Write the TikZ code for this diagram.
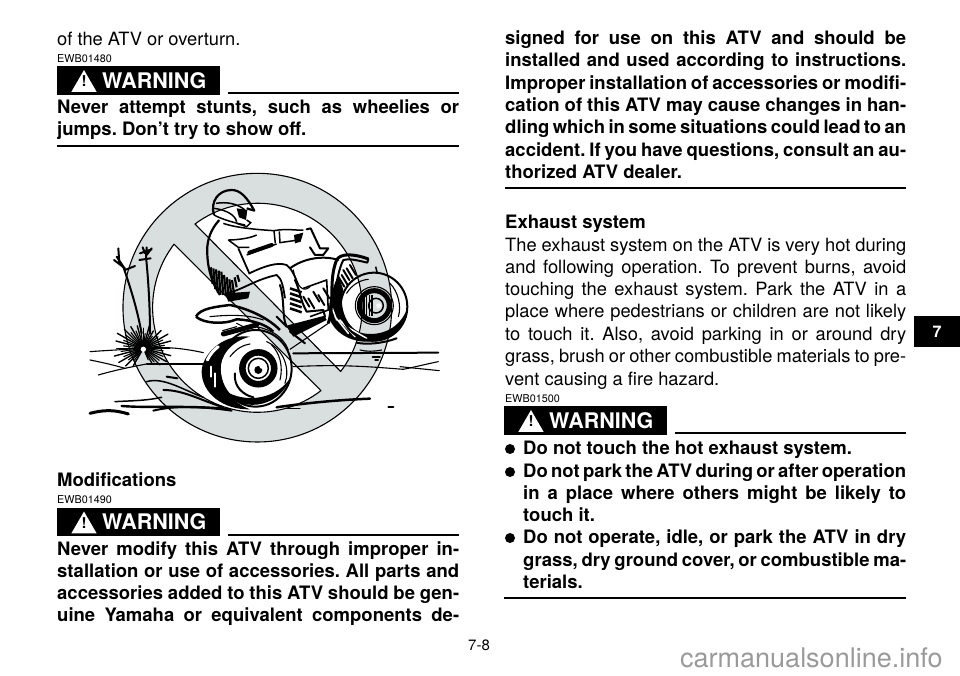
\documentclass[tikz,border=0pt]{standalone}
\usepackage{fontspec}
\setmainfont{TeX Gyre Heros}
\usepackage{xcolor}
\usetikzlibrary{shapes.geometric, positioning, calc}
\definecolor{ringgray}{HTML}{D9DEDE}
\definecolor{markgray}{HTML}{9A9A9A}
\newcommand{\fitline}[2]{\hbox to #1pt{\spaceskip=.278em plus 1fil minus .14em #2}}
\begin{document}
\frenchspacing
\begin{tikzpicture}[
    x=1pt, y=-1pt,
    plain/.style={anchor=base west, inner sep=0pt, font=\fontsize{18.3}{22}\selectfont},
    bold/.style={anchor=base west, inner sep=0pt, font=\fontsize{18.5}{22}\selectfont\bfseries},
    codetag/.style={anchor=base west, inner sep=0pt, font=\fontsize{10.8}{12}\selectfont},
    warnbar/.style={anchor=north west, fill=black, minimum width=163pt, minimum height=28.5pt, inner sep=0pt},
    warntext/.style={right=45pt of #1.west, anchor=west, inner sep=0pt, text=white, font=\fontsize{21.5}{24}\selectfont\bfseries},
    warnicon/.style={regular polygon, regular polygon sides=3, fill=white, inner sep=0pt, minimum size=29pt},
    warnmark/.style={inner sep=0pt, font=\fontsize{15}{16}\selectfont\bfseries},
    rulebar/.style={draw, line width=2pt},
    dot/.style={circle, fill=black, minimum size=10pt, inner sep=0pt},
    ink/.style={line width=1.1pt, line cap=round, line join=round},
    heavy ink/.style={line width=2pt, line cap=round, line join=round}
]
\useasboundingbox (0,0) rectangle (960,675);

% Left column, top
\node[plain] (overturn) at (57,45) {of the ATV or overturn.};
\node[codetag] (tagA) at (57,62) {EWB01480};
\node[warnbar] (warnA) at (57,66) {};
\node[warntext=warnA] (warnAtext) {WARNING};
\node[warnicon] (iconA) at (84,84.5) {};
\node[warnmark] at (84,81.5) {!};
\coordinate (ruleAend) at (459,93);
\draw[rulebar] ($(warnA.east |- ruleAend)+(8,0)$) -- (ruleAend);
\node[bold] (stuntsA) at (57,113) {\fitline{402}{Never attempt stunts, such as wheelies or}};
\node[bold] (stuntsB) at (57,135) {jumps. Don’t try to show off.};
\coordinate (ruleBstart) at (57,146);
\coordinate (ruleBend) at (459,146);
\draw[rulebar] (ruleBstart) -- (ruleBend);

% Prohibition sign
\begin{scope}[shift={(90,160)}, x=0.3333pt, y=-0.3333pt]
\fill[ringgray] (502,443) circle (403);
\fill[white] (315,192) arc[start angle=233.3, end angle=397.4, radius=314] -- cycle;
\fill[white] (693,692) arc[start angle=52.5, end angle=217.3, radius=314] -- cycle;
\draw[ink] (502,443) circle (403);
\draw[ink] (315,192) arc[start angle=233.3, end angle=397.4, radius=314] -- cycle;
\draw[ink] (693,692) arc[start angle=52.5, end angle=217.3, radius=314] -- cycle;

% Ground
\draw[ink] (0,575) .. controls (40,572) and (80,570) .. (110,568) .. controls (180,562) and (240,556) .. (340,578);
\draw[heavy ink] (610,580) -- (1045,578);
\draw[ink] (610,620) .. controls (760,612) and (860,622) .. (940,628) .. controls (980,620) and (1010,612) .. (1045,605);
\draw[ink] (930,620) -- (1048,632);
\draw[ink] (0,600) .. controls (40,608) and (70,615) .. (105,625);
\draw[ink] (25,645) .. controls (60,635) and (100,625) .. (170,612);
\draw[ink] (170,612) -- (345,612);
\draw[line width=3pt, line cap=round] (0,760) .. controls (40,750) and (70,748) .. (115,762);
\draw[line width=2.4pt, line cap=round] (95,738) .. controls (180,745) and (300,735) .. (420,748);
\draw[line width=1.5pt, line cap=round] (75,725) .. controls (130,722) and (170,722) .. (215,712);
\draw[heavy ink] (190,752) .. controls (260,735) and (340,740) .. (425,752);
\draw[line width=2.5pt, line cap=round] (560,742) .. controls (640,730) and (740,720) .. (840,716);
\draw[ink] (590,745) -- (630,745);
\draw[line width=1.5pt, line cap=round] (170,665) .. controls (220,650) and (280,690) .. (340,712);
\draw[heavy ink] (220,690) .. controls (280,690) and (330,720) .. (400,742);
\draw[heavy ink] (230,650) -- (262,655);
\draw[heavy ink] (895,741) -- (910,741);
\draw[ink] (810,570) .. controls (830,575) and (850,575) .. (875,570);
\draw[heavy ink] (848,590) -- (870,590);
\draw[ink] (855,600) -- (865,600);

% Plant
\foreach \ang/\len in {150/85,165/90,180/80,195/85,210/90,225/80,240/75,255/70,270/60,285/70,300/60,315/75,330/85,345/85,0/80,15/85,30/80,45/70,60/50,120/60,135/75}{
  \draw[line width=1.4pt, line cap=round] (160,565) -- ++(\ang:\len);
  \draw[ink] (160,565) -- ++(\ang+7:\len*0.75);
}
\fill[white] (160,568) circle (8);
\draw[heavy ink] (155,520) .. controls (140,440) and (120,380) .. (100,320);
\draw[heavy ink] (180,520) .. controls (180,440) and (175,360) .. (168,290);
\draw[heavy ink] (100,320) -- (80,290) (85,265) -- (88,310) (72,300) -- (105,325) (135,318) -- (105,330);
\draw[heavy ink] (168,290) -- (170,262) (150,280) -- (185,268) (148,300) -- (182,295) (158,262) -- (165,280) (185,265) -- (170,285);

% Rear wheel
\fill (480,530) .. controls (390,520) and (335,590) .. (335,635) .. controls (335,700) and (400,750) .. (480,748) .. controls (430,730) and (395,690) .. (392,630) .. controls (390,590) and (420,545) .. (480,530) -- cycle;
\fill (400,690) .. controls (440,755) and (565,755) .. (603,650) .. controls (565,715) and (470,735) .. (400,690) -- cycle;
\draw[white, line width=3pt, line cap=round] (352,600) .. controls (362,580) and (372,570) .. (385,560);
\draw[white, line width=2pt, line cap=round] (375,640) -- (375,680) (362,620) -- (362,650);
\draw[heavy ink] (497,625) ellipse (108 and 115);
\draw[ink] (420,590) .. controls (440,565) and (460,555) .. (480,552);
\draw[ink] (545,555) .. controls (570,580) and (580,620) .. (570,660);
\draw[ink] (530,545) .. controls (585,570) and (600,630) .. (585,670);
\draw[line width=6pt] (505,625) circle (47);
\draw[ink] (505,625) circle (56);
\draw[line width=1.5pt] (505,625) circle (30);
\fill (505,630) circle (12);
\fill[white] (515,620) circle (6);
\draw[heavy ink] (435,640) .. controls (430,680) and (460,705) .. (490,712);

% Front wheel
\fill (745,345) .. controls (725,390) and (710,440) .. (720,480) .. controls (740,525) and (790,548) .. (840,545) .. controls (900,545) and (940,510) .. (950,450) .. controls (930,500) and (880,530) .. (820,520) .. controls (770,510) and (745,440) .. (760,390) -- cycle;
\draw[white, line width=1.5pt, line cap=round] (735,470) -- (775,520) (750,480) -- (795,530) (725,440) -- (740,480) (770,500) -- (830,535);
\draw[heavy ink] (852,440) ellipse (100 and 102);
\draw[ink] (770,400) .. controls (785,375) and (810,360) .. (835,358);
\draw[ink] (900,370) .. controls (925,395) and (935,440) .. (925,470);
\draw[line width=5pt] (853,437) circle (45);
\draw[ink] (853,437) circle (57);
\draw[line width=1.5pt] (858,437) circle (22);
\foreach \xx in {822,830,838,846}{\draw[line width=1.6pt] (\xx,405) -- (\xx,468);}
\fill[white] (866,437) circle (7);
\draw[heavy ink] (800,548) .. controls (830,555) and (880,550) .. (920,535);

% Body of the machine
\draw[line width=2.5pt, line join=round] (318,470) .. controls (330,445) and (380,440) .. (420,435) .. controls (470,445) and (530,470) .. (570,510);
\draw[line width=2.5pt, line join=round] (318,470) .. controls (340,490) and (400,495) .. (440,478) .. controls (490,480) and (530,495) .. (550,515);
\draw[ink] (360,470) .. controls (410,465) and (470,462) .. (520,480);
\draw[line width=5pt, line cap=round] (400,522) -- (500,495);
\draw[ink] (398,512) -- (440,500) (440,490) -- (470,505);
\draw[ink] (500,500) .. controls (545,510) and (580,530) .. (595,570);
\draw[ink] (600,568) -- (715,490);
\draw[heavy ink] (600,325) .. controls (640,295) and (700,285) .. (745,300);
\draw[ink] (610,330) .. controls (620,380) and (640,400) .. (660,380);
\draw[line width=3pt] (715,490) .. controls (735,430) and (715,360) .. (740,300) .. controls (750,280) and (790,280) .. (835,297);
\draw[heavy ink] (835,297) -- (832,308) .. controls (800,300) and (775,295) .. (760,300) .. controls (745,330) and (740,370) .. (735,400);
\draw[line width=1.5pt] (857,320) -- (862,340);
\foreach \xx/\yy in {640/410,655/415,670/395,685/405,700/385,760/330,770/325,780/315,745/350,755/345}{
  \draw[heavy ink] (\xx,\yy) -- ++(18,30);
}
\draw[line width=1.6pt] (640,385) -- (710,360) -- (715,450) -- (660,470);

% Rider
\draw[line width=2.2pt, line join=round] (372,165) .. controls (360,125) and (385,90) .. (425,90) .. controls (450,90) and (470,110) .. (493,152) -- (470,145);
\draw[line width=1.5pt] (372,165) .. controls (400,180) and (440,190) .. (465,195) (378,130) .. controls (410,125) and (440,130) .. (465,150) (372,145) .. controls (410,150) and (435,165) .. (440,185);
\fill (440,145) -- (472,150) -- (468,180) -- (447,172) -- cycle;
\draw[line width=1.5pt] (470,180) -- (482,188) -- (470,200) -- (440,190);
\draw[line width=2.2pt] (388,180) .. controls (370,200) and (355,225) .. (352,260) .. controls (350,310) and (360,360) .. (390,405);
\draw[line width=1.5pt] (400,190) .. controls (440,205) and (520,210) .. (552,212) .. controls (590,205) and (620,212) .. (640,210);
\draw[line width=1.5pt] (415,240) .. controls (440,240) and (480,235) .. (500,225) (415,240) -- (445,262) -- (478,262) (470,285) .. controls (510,270) and (550,255) .. (560,252);
\draw[line width=1.5pt] (552,212) -- (556,250) (568,214) -- (570,248) -- (625,240);
\draw[line width=4pt, line cap=round] (478,278) -- (545,255);
\fill (612,225) -- (640,218) -- (632,245) -- (615,250) -- cycle;
\draw[heavy ink] (650,208) -- (662,205) -- (690,265) -- (715,265) -- (700,285) -- (675,285) -- (660,262);
\draw[line width=1.8pt] (445,265) -- (478,340) .. controls (520,320) and (560,305) .. (590,315) .. controls (605,325) and (615,350) .. (625,375);
\draw[line width=1.8pt] (405,400) .. controls (450,395) and (490,360) .. (560,345) .. controls (575,355) and (580,380) .. (585,415);
\foreach \xx/\yy/\hh in {362/322/50,370/325/62,378/328/70,386/332/72,394/335/70,402/345/62,410/352/55,418/358/48,426/360/40,434/352/30,442/345/20}{
  \draw[line width=2.2pt] (\xx,\yy) -- ++(6,\hh);
}
\fill (405,400) -- (480,395) -- (475,415) -- (415,425) -- cycle;

% Boot and leg
\draw[heavy ink] (570,375) .. controls (585,420) and (575,470) .. (590,500) -- (705,470) -- (700,450) -- (650,455) .. controls (630,420) and (630,390) .. (615,360);
\foreach \yy in {385,400,415,430,445}{\draw[line width=2.5pt] (600,\yy) -- (635,\yy+12);}
\fill (590,500) -- (705,470) -- (710,480) -- (610,530) -- cycle;
\draw[heavy ink] (560,470) -- (590,500) (600,515) -- (645,550);
\end{scope}

% Left column, bottom
\node[bold] (modhead) at (57,486) {Modifications};
\node[codetag] (tagB) at (57,503) {EWB01490};
\node[warnbar] (warnB) at (57,507.5) {};
\node[warntext=warnB] (warnBtext) {WARNING};
\node[warnicon] (iconB) at (84,526) {};
\node[warnmark] at (84,523) {!};
\coordinate (ruleCend) at (459,535);
\draw[rulebar] ($(warnB.east |- ruleCend)+(8,0)$) -- (ruleCend);
\foreach \txt [count=\i from 0] in {Never modify this ATV through improper in-,
    {stallation or use of accessories. All parts and},
    accessories added to this ATV should be gen-,
    uine Yamaha or equivalent components de-}{
  \node[bold] (modline\i) at (57,{555+22.3*\i}) {\fitline{402}{\txt}};
}

% Right column, top
\foreach \txt [count=\i from 0] in {signed for use on this ATV and should be,
    installed and used according to instructions.,
    Improper installation of accessories or modifi-,
    cation of this ATV may cause changes in han-,
    dling which in some situations could lead to an,
    {accident. If you have questions, consult an au-}}{
  \node[bold] (signline\i) at (505,{44.5+22.3*\i}) {\fitline{401}{\txt}};
}
\node[bold] (signlast) at (505,178) {thorized ATV dealer.};
\coordinate (ruleDstart) at (505,188);
\coordinate (ruleDend) at (906,188);
\draw[rulebar] (ruleDstart) -- (ruleDend);

% Exhaust system
\node[bold] (exhead) at (505,228) {Exhaust system};
\foreach \txt [count=\i from 0] in {The exhaust system on the ATV is very hot during,
    {and following operation. To prevent burns, avoid},
    touching the exhaust system. Park the ATV in a,
    place where pedestrians or children are not likely,
    {to touch it. Also, avoid parking in or around dry},
    {grass, brush or other combustible materials to pre-}}{
  \node[plain] (exline\i) at (505,{251+22.3*\i}) {\fitline{401}{\txt}};
}
\node[plain] (exlast) at (505,385) {vent causing a fire hazard.};
\node[codetag] (tagC) at (505,402) {EWB01500};
\node[warnbar] (warnC) at (504,406) {};
\node[warntext=warnC] (warnCtext) {WARNING};
\node[warnicon] (iconC) at (531,424.5) {};
\node[warnmark] at (531,421.5) {!};
\coordinate (ruleEend) at (906,433);
\draw[rulebar] ($(warnC.east |- ruleEend)+(8,0)$) -- (ruleEend);

% Bullets
\node[dot] (dotA) at (510,449) {};
\node[bold] (hotline) at (523,454) {Do not touch the hot exhaust system.};
\node[dot] (dotB) at (510,472) {};
\node[bold] (parkA) at (523,477) {\fitline{383}{Do not park the ATV during or after operation}};
\node[bold] (parkB) at (523,499) {\fitline{383}{in a place where others might be likely to}};
\node[bold] (parkC) at (523,521) {touch it.};
\node[dot] (dotC) at (510,538) {};
\node[bold] (idleA) at (523,543) {\fitline{383}{Do not operate, idle, or park the ATV in dry}};
\node[bold] (idleB) at (523,566) {\fitline{383}{grass, dry ground cover, or combustible ma-}};
\node[bold] (idleC) at (523,588) {terials.};
\coordinate (ruleFstart) at (504,598);
\coordinate (ruleFend) at (906,598);
\draw[rulebar] (ruleFstart) -- (ruleFend);

% Page furniture
\node[fill=black, minimum width=46pt, minimum height=31pt, inner sep=0pt, text=white, font=\fontsize{16}{18}\selectfont\bfseries] (tabseven) at (937,331.5) {7};
\node[anchor=base, inner sep=0pt, font=\fontsize{15}{18}\selectfont] (pagenum) at (479,650) {7-8};
\node[anchor=base west, inner sep=0pt, text=markgray, font=\fontsize{27}{30}\selectfont] (watermark) at (680,667) {carmanualsonline.info};
\end{tikzpicture}
\end{document}
